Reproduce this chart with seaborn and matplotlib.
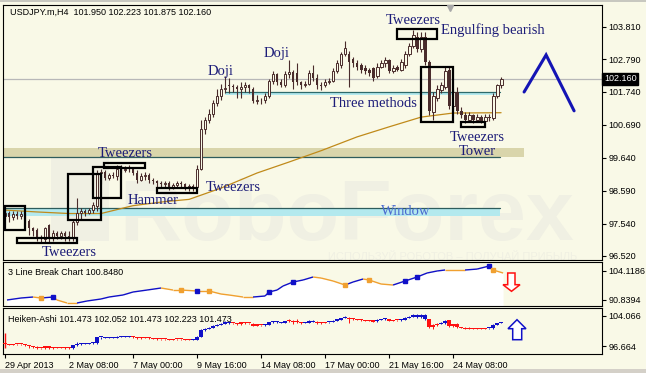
import matplotlib
matplotlib.use("Agg")
import matplotlib.pyplot as plt
import matplotlib.transforms as mtransforms
from matplotlib.patches import Rectangle, Polygon
import seaborn as sns
import pandas as pd

BG = "#f9f9e7"
sns.set_style("white", {"axes.facecolor": BG, "figure.facecolor": BG})
plt.rcParams["font.family"] = ["Liberation Sans", "DejaVu Sans"]

# ---------------- data ----------------
title_text = "USDJPY.m,H4  101.950 102.223 101.875 102.160"

opens = [97.80, 97.90, 97.75, 97.85, 97.80, 97.85, 97.62, 97.40, 97.35, 97.10,
         97.05, 97.50, 97.10, 97.25, 97.15, 97.25, 97.15, 97.10, 97.60, 97.90,
         97.95, 97.90, 97.98, 98.10, 99.15, 99.20, 99.00, 99.10, 99.05, 99.30,
         99.25, 99.30, 99.30, 99.15, 98.95, 99.05, 99.10, 98.95, 98.90, 98.85,
         98.80, 98.85, 98.70, 98.78, 98.85, 98.80, 98.70, 98.75, 98.70, 99.30,
         100.55, 100.85, 101.05, 101.40, 101.60, 101.85, 101.95, 101.92, 101.90, 101.85,
         101.90, 101.95, 101.85, 101.45, 101.50, 101.48, 101.60, 102.10, 102.30, 102.05,
         101.95, 102.30, 102.38, 102.35, 102.05, 101.95, 102.00, 102.35, 102.20, 101.95,
         101.95, 102.05, 102.10, 102.40, 102.60, 102.95, 102.95, 102.80, 102.65, 102.60,
         102.50, 102.45, 102.50, 102.25, 102.55, 102.65, 102.75, 102.40, 102.55, 102.45,
         102.60, 102.95, 103.20, 103.50, 103.10, 103.50, 102.70, 101.10, 101.55, 101.80,
         101.90, 102.45, 101.30, 101.75, 101.15, 101.00, 100.85, 101.00, 100.85, 100.95,
         100.82, 100.95, 100.90, 101.60, 101.95]
highs = [98.00, 97.95, 97.95, 97.95, 97.95, 97.90, 97.70, 97.45, 97.40, 97.20,
         97.45, 97.55, 97.35, 97.30, 97.30, 97.30, 97.30, 97.70, 98.35, 98.05,
         98.00, 98.05, 98.25, 99.25, 99.30, 99.25, 99.15, 99.20, 99.40, 99.40,
         99.38, 99.40, 99.35, 99.25, 99.15, 99.20, 99.15, 99.00, 98.95, 98.90,
         98.92, 98.90, 98.85, 98.92, 98.90, 98.85, 98.82, 98.80, 99.40, 100.85,
         100.95, 101.20, 101.50, 101.85, 102.00, 102.25, 102.20, 102.00, 101.95, 102.05,
         102.05, 102.00, 101.90, 101.65, 101.55, 101.70, 102.15, 102.40, 102.35, 102.15,
         102.40, 102.75, 102.45, 102.65, 102.10, 102.10, 102.45, 102.60, 102.30, 102.05,
         102.15, 102.20, 102.50, 102.75, 103.00, 103.35, 103.05, 102.85, 102.75, 102.65,
         102.60, 102.50, 102.55, 102.65, 102.75, 102.85, 102.80, 102.60, 102.60, 102.80,
         103.05, 103.30, 103.70, 103.65, 103.65, 103.65, 102.75, 101.75, 101.95, 102.05,
         102.55, 102.55, 101.85, 101.90, 101.25, 101.10, 101.10, 101.05, 101.05, 101.00,
         101.05, 101.05, 101.70, 102.00, 102.223]
lows = [97.70, 97.60, 97.65, 97.70, 97.70, 97.58, 97.20, 97.15, 97.00, 96.95,
        96.95, 96.95, 97.00, 97.05, 97.05, 97.00, 96.98, 97.00, 97.50, 97.70,
        97.80, 97.85, 97.90, 97.95, 98.80, 98.95, 98.95, 99.00, 98.95, 99.15,
        99.18, 99.20, 99.10, 98.85, 98.90, 98.95, 98.85, 98.80, 98.70, 98.72,
        98.70, 98.62, 98.65, 98.70, 98.72, 98.62, 98.60, 98.60, 98.65, 99.25,
        100.40, 100.75, 100.95, 101.30, 101.50, 101.70, 101.70, 101.75, 101.55, 101.55,
        101.75, 101.70, 101.40, 101.35, 101.35, 101.40, 101.55, 102.00, 101.95, 101.90,
        101.90, 102.20, 101.85, 101.95, 101.85, 101.90, 101.95, 102.10, 101.85, 101.80,
        101.90, 102.00, 102.05, 102.35, 102.50, 102.90, 101.90, 102.55, 102.45, 102.35,
        102.30, 102.25, 102.10, 102.20, 102.50, 102.55, 102.35, 102.35, 102.40, 102.40,
        102.50, 102.90, 103.15, 103.00, 103.00, 102.60, 101.00, 100.85, 101.45, 101.70,
        101.85, 101.20, 101.20, 101.05, 100.90, 100.75, 100.78, 100.76, 100.78, 100.75,
        100.77, 100.82, 100.85, 101.55, 101.875]
closes = [97.90, 97.75, 97.85, 97.80, 97.85, 97.62, 97.40, 97.30, 97.10, 97.05,
          97.40, 97.05, 97.25, 97.15, 97.25, 97.15, 97.10, 97.60, 97.90, 97.95,
          97.90, 97.98, 98.15, 99.15, 99.20, 99.00, 99.10, 99.05, 99.30, 99.25,
          99.30, 99.28, 99.15, 98.95, 99.05, 99.10, 98.95, 98.90, 98.85, 98.80,
          98.85, 98.70, 98.78, 98.85, 98.80, 98.70, 98.75, 98.68, 99.30, 100.55,
          100.85, 101.05, 101.40, 101.60, 101.82, 101.88, 101.92, 101.90, 101.82, 101.90,
          101.95, 101.88, 101.45, 101.50, 101.48, 101.60, 102.10, 102.30, 102.05, 101.95,
          102.30, 102.38, 102.05, 102.05, 101.95, 102.00, 102.35, 102.20, 101.95, 101.92,
          102.05, 102.10, 102.40, 102.65, 102.95, 103.15, 102.70, 102.65, 102.55, 102.45,
          102.40, 102.35, 102.20, 102.55, 102.65, 102.75, 102.40, 102.50, 102.45, 102.70,
          102.95, 103.20, 103.55, 103.10, 103.50, 102.70, 101.15, 101.60, 101.85, 101.95,
          102.40, 101.30, 101.75, 101.15, 101.00, 100.85, 101.00, 100.85, 100.95, 100.82,
          100.95, 100.90, 101.60, 101.95, 102.16]

ma_bars = [0, 8, 16, 24, 32, 40, 46, 54, 63, 71, 79, 88, 96, 104, 112, 124]
ma_vals = [97.98, 97.92, 97.87, 97.87, 98.12, 98.25, 98.32, 98.68, 99.16, 99.51,
           99.87, 100.31, 100.63, 100.94, 101.07, 101.08]

price_ticks = [103.810, 102.790, 101.740, 100.690, 99.640, 98.590, 97.540, 96.520]
price_labels = ["103.810", "102.790", "101.740", "100.690", "99.640", "98.590", "97.540", "96.520"]
last_price = 102.160
last_price_label = "102.160"

date_tick_bars = [0, 16, 32, 48, 64, 80, 96, 112]
date_labels = ["29 Apr 2013", "2 May 08:00", "7 May 00:00", "9 May 16:00",
               "14 May 08:00", "17 May 00:00", "21 May 16:00", "24 May 08:00"]

# 3 line break indicator (its own scale)
lb_bars = [0.5, 4, 7, 9, 12, 13, 15.5, 18, 20.5, 24, 26, 29.5, 32, 35.5, 39, 42, 44, 48,
           51, 54, 56, 59.5, 62, 65, 66, 68, 69.5, 72, 74.5, 77, 79, 82, 85, 87, 89.5,
           91, 94, 97, 100, 103, 105.5, 108, 110, 115, 118, 121, 122, 124.5]
lb_vals = [90.84, 91.75, 92.2, 91.75, 92.2, 90.84, 89.46, 89.46, 90.38, 91.3, 92.2, 93.13,
           94.5, 95.4, 96.33, 95.4, 95.4, 94.96, 94.96, 93.58, 93.13, 92.2, 92.2, 92.67,
           94.5, 95.4, 97.25, 99.08, 100.0, 101.37, 100.9, 99.54, 97.7, 99.08, 100.45,
           100.0, 98.16, 97.7, 99.54, 101.37, 103.2, 104.12, 104.58, 104.58, 105.0, 106.4,
           104.58, 103.2]
lb_seg = list("bb" + "o" + "b" + "ooo" + "bbbbbbb" + "oooooooo" + "bbbbbbb" + "ooo"
              + "bb" + "ooo" + "bbbbb" + "o" + "bb" + "oo")
lb_squares = [(3, "o"), (4, "b"), (16, "o"), (17, "b"), (18, "o"), (24, "b"), (27, "b"),
              (32, "o"), (35, "o"), (38, "b"), (39, "b"), (45, "b"), (46, "o")]
lb_title = "3 Line Break Chart 100.8480"
lb_ticks = [104.1186, 90.8394]
lb_labels = ["104.1186", "90.8394"]

# Heiken-Ashi colour runs (start bar, end bar, colour)
ha_runs = [(0, 16, "r"), (17, 31, "b"), (32, 46, "r"), (47, 56, "b"), (57, 64, "r"),
           (65, 70, "b"), (71, 74, "r"), (75, 77, "b"), (78, 80, "r"), (81, 85, "b"),
           (86, 92, "r"), (93, 95, "b"), (96, 98, "r"), (99, 105, "b"), (106, 108, "r"),
           (109, 110, "b"), (111, 120, "r"), (121, 124, "b")]
ha_title = "Heiken-Ashi 101.473 102.052 101.473 102.223 101.473"
ha_labels = ["104.066", "96.664"]

notes = [("Tweezers", 16, 96.64), ("Tweezers", 30, 99.77), ("Hammer", 36.9, 98.30),
         ("Tweezers", 57, 98.71), ("Doji", 54, 102.38), ("Doji", 67.9, 102.98),
         ("Three methods", 92, 101.36), ("Tweezers", 102.1, 104.03),
         ("Engulfing bearish", 121.9, 103.71), ("Tweezers", 118, 100.28),
         ("Tower", 118, 99.83)]

# ---------------- layout ----------------
W, H = 646, 373
fig = plt.figure(figsize=(W / 100, H / 100), dpi=100)
fig.patch.set_facecolor(BG)

def px_axes(x0, y0, x1, y1):
    return fig.add_axes([x0 / W, 1 - y1 / H, (x1 - x0) / W, (y1 - y0) / H])

X0, X1 = 3, 601.5
ax = px_axes(X0, 5, X1, 260)
ax1 = px_axes(X0, 262, X1, 306)
ax2 = px_axes(X0, 308, X1, 354)
XLIM = (-0.5, 149.1)

CANDLE = "#4a2c2c"
TEAL = "#2e5c5c"
NAVY = "#1c1c78"
BLUE = "#1010c8"
ORANGE = "#f0a030"
RED = "#ff1010"
WM = "#f0f0e3"

for a in (ax, ax1, ax2):
    a.set_xlim(*XLIM)
    a.set_facecolor(BG)
    for s in a.spines.values():
        s.set_color("black")
        s.set_linewidth(0.8)
    a.tick_params(axis="x", bottom=False, labelbottom=False)
    a.tick_params(axis="y", left=False, labelleft=False, right=True, labelright=True,
                  direction="out", length=3, width=0.8, pad=2, labelsize=6.5, colors="black")

df = pd.DataFrame({"bar": range(len(closes)), "open": opens, "high": highs,
                   "low": lows, "close": closes})
up = df["close"] >= df["open"]

# ---- main panel ----
ax.set_ylim(96.39, 104.51)
ax.set_yticks(price_ticks)
ax.set_yticklabels(price_labels)

# faint watermark
ax.add_patch(Rectangle((11.5, 97.0), 14.5, 2.7, fc=WM, ec="none", zorder=0))
ax.text(85.4, 97.03, "RoboForex", ha="center", va="baseline", fontsize=62,
        fontweight="bold", color=WM, zorder=0)
ax.text(112, 96.50, "ИСПОЛЬЗУЙ РОБОТОВ – ПОЛУЧАЙ ПРИБЫЛЬ", ha="center", va="center",
        fontsize=8, color=WM, zorder=0)

# zones & levels
ax.fill_between([-0.5, 129.75], 99.67, 99.96, color="#d9d5ab", lw=0, zorder=1)
ax.plot([-0.5, 123.75], [99.67, 99.67], color=TEAL, lw=0.9, zorder=2)
ax.fill_between([-0.5, 123.75], 97.79, 98.05, color="#b3e9ee", lw=0, zorder=1)
ax.plot([-0.5, 123.75], [98.05, 98.05], color=TEAL, lw=0.9, zorder=2)
ax.fill_between([55, 123.75], 101.66, 101.74, color="#b3e9ee", lw=0, zorder=1)
ax.plot([55, 123.75], [101.74, 101.74], color="#2e6a6a", lw=0.9, zorder=2)
ax.axhline(last_price, color="#b8b8b8", lw=0.9, zorder=1)

# moving average
sns.lineplot(x=ma_bars, y=ma_vals, ax=ax, color="#c08a1a", lw=0.9, zorder=2)

# candles
ax.vlines(df["bar"], df["low"], df["high"], color=CANDLE, lw=0.8, zorder=3)
ax.bar(df["bar"][up], (df["close"] - df["open"])[up].clip(lower=0.02), bottom=df["open"][up],
       width=0.72, facecolor=BG, edgecolor=CANDLE, lw=0.7, zorder=4)
ax.bar(df["bar"][~up], (df["open"] - df["close"])[~up], bottom=df["close"][~up],
       width=0.72, color=CANDLE, lw=0, zorder=4)

# pattern boxes
boxes = [(0, 5, 97.34, 98.11), (3, 18, 96.93, 97.09), (15.75, 24, 97.66, 99.13),
         (22, 29, 98.36, 99.35), (24.75, 35, 99.32, 99.48), (38, 48, 98.52, 98.68),
         (98, 108, 103.43, 103.75), (104, 112, 100.78, 102.54), (114, 120, 100.62, 100.78)]
for b0, b1, p0, p1 in boxes:
    ax.add_patch(Rectangle((b0, p0), b1 - b0, p1 - p0, fill=False, ec="black", lw=1.6, zorder=5))

for txt, bx, py in notes:
    ax.text(bx, py, txt, ha="center", va="center", fontsize=10.5, color=NAVY,
            family="Liberation Serif", zorder=6)
ax.text(100.1, 97.92, "Window", ha="center", va="center", fontsize=10.5, color="#4a6ad0",
        family="Liberation Serif", zorder=6)

# forecast chevron
ax.plot([129.75, 135.25, 142.25], [101.74, 102.92, 101.14], color="#1414b4", lw=2.2,
        solid_joinstyle="miter", zorder=6)

ax.text(0.0117, 0.972, title_text, transform=ax.transAxes, ha="left", va="center",
        fontsize=6.5, color="black")
ax.plot([111.25], [104.42], marker="v", color="#a8a8a8", ms=4, clip_on=False, zorder=7)

trans = mtransforms.blended_transform_factory(ax.transAxes, ax.transData)
ax.text(1.004, last_price, last_price_label, transform=trans, ha="left", va="center",
        fontsize=6.5, color="white",
        bbox=dict(boxstyle="square,pad=0.18", fc="black", ec="black"))

# ---- 3 line break panel ----
ax1.set_ylim(88.09, 108.24)
ax1.set_yticks(lb_ticks)
ax1.set_yticklabels(lb_labels)
ax1.fill_between(lb_bars, lb_vals, 88.09, color="white", lw=0, zorder=1)
cmap = {"b": BLUE, "o": ORANGE}
for i, c in enumerate(lb_seg):
    ax1.plot(lb_bars[i:i + 2], lb_vals[i:i + 2], color=cmap[c], lw=1.0,
             solid_capstyle="butt", zorder=2)
for idx, c in lb_squares:
    ax1.plot([lb_bars[idx]], [lb_vals[idx]], marker="s", ms=3.3, color=cmap[c],
             mec=cmap[c], zorder=3)
ax1.text(0.0084, 0.77, lb_title, transform=ax1.transAxes, ha="left", va="center",
         fontsize=6.5, color="black")

def frac(x, y, y0, y1):
    return ((x - X0) / (X1 - X0), (y1 - y) / (y1 - y0))

down_arrow = [(507.7, 273), (515, 273), (515, 284.7), (520, 284.7), (511.5, 291.3),
              (503, 284.7), (507.7, 284.7)]
ax1.add_patch(Polygon([frac(x, y, 262, 306) for x, y in down_arrow], closed=True,
                      transform=ax1.transAxes, fc="white", ec=RED, lw=1.1, zorder=4))

# ---- Heiken-Ashi panel ----
ax2.set_ylim(95.94, 104.86)
ax2.set_yticks([103.31, 97.49])
ax2.set_yticklabels(ha_labels)
ha_col = [None] * len(closes)
for s, e, c in ha_runs:
    for k in range(s, e + 1):
        ha_col[k] = BLUE if c == "b" else RED
df["hacol"] = ha_col
ax2.vlines(df["bar"], df["low"], df["high"], colors=df["hacol"], lw=0.7, zorder=2)
body_lo = df[["open", "close"]].min(axis=1)
body_h = (df["close"] - df["open"]).abs().clip(lower=0.22)
ax2.bar(df["bar"], body_h, bottom=body_lo, width=0.8, color=df["hacol"], lw=0, zorder=3)
ax2.vlines([0], [97.1], [100.0], colors=[RED], lw=1.0, zorder=2)
ax2.text(0.0084, 0.76, ha_title, transform=ax2.transAxes, ha="left", va="center",
         fontsize=6.5, color="black")
up_arrow = [(517, 319.7), (526, 328.7), (521.7, 328.7), (521.7, 339.7), (512.7, 339.7),
            (512.7, 328.7), (508, 328.7)]
ax2.add_patch(Polygon([frac(x, y, 308, 354) for x, y in up_arrow], closed=True,
                      transform=ax2.transAxes, fc="white", ec=BLUE, lw=1.1, zorder=4))

ax2.set_xticks(date_tick_bars)
ax2.set_xticklabels(date_labels, ha="left")
ax2.tick_params(axis="x", bottom=True, labelbottom=True, direction="out", length=3,
                width=0.8, pad=2, labelsize=6.5, colors="black")

# window frame strips
fig.add_artist(Rectangle((0, 0), 1, 4 / H, transform=fig.transFigure, fc="#d4d0c8", ec="none"))
fig.add_artist(Rectangle((0, 1 - 2 / H), 1, 2 / H, transform=fig.transFigure, fc="#c8c8c0", ec="none"))

fig.savefig("out.png", dpi=100, facecolor=BG)
